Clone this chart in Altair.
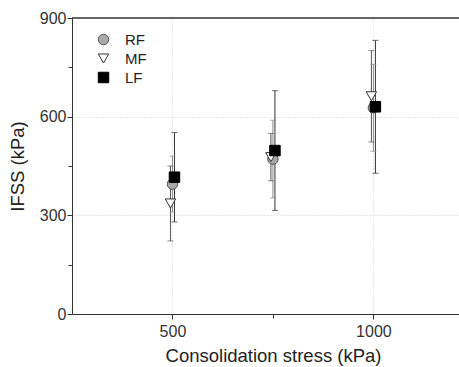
import altair as alt
import pandas as pd

stress = [500, 750, 1000]
series = ["RF", "MF", "LF"]
rf_mean = [395, 471, 627]
rf_err = [85, 118, 132]
mf_mean = [336, 477, 662]
mf_err = [114, 72, 139]
lf_mean = [416, 497, 630]
lf_err = [136, 182, 202]

dodge = {"RF": 0, "MF": -5, "LF": 5}
rows = []
for name, means, errs in [("RF", rf_mean, rf_err), ("MF", mf_mean, mf_err), ("LF", lf_mean, lf_err)]:
    for s, m, e in zip(stress, means, errs):
        rows.append({"stress": s + dodge[name], "series": name, "ifss": m,
                     "lo": m - e, "hi": m + e})
df = pd.DataFrame(rows)

FONT = "Liberation Sans"
XMIN, XMAX = 250, 1213

xscale = alt.Scale(domain=[XMIN, XMAX], nice=False, zero=False)
yscale = alt.Scale(domain=[0, 900], nice=False)

xaxis = alt.Axis(
    values=[500, 750, 1000],
    labelExpr="datum.value % 500 == 0 ? datum.label : ''",
    format="d",
    title="Consolidation stress (kPa)",
    titleX=201,
    grid=True,
    gridColor="#d0d0d0",
    gridDash=[1, 2],
    gridOpacity={"condition": {"test": "datum.value % 500 == 0", "value": 1}, "value": 0},
    tickSize={"condition": {"test": "datum.value % 500 == 0", "value": 5}, "value": 4},
    domainColor="#333", tickColor="#333", labelColor="#333", titleColor="#222",
    labelFont=FONT, titleFont=FONT, labelFontSize=16, titleFontSize=18.5,
    titleFontWeight="normal", labelPadding=4, titlePadding=7,
)
yaxis = alt.Axis(
    values=[0, 150, 300, 450, 600, 750, 900],
    labelExpr="datum.value % 300 == 0 ? datum.label : ''",
    title="IFSS (kPa)",
    grid=True,
    gridColor="#d0d0d0",
    gridDash=[1, 2],
    gridOpacity={"condition": {"test": "datum.value % 300 == 0 && datum.value > 0 && datum.value < 900", "value": 1}, "value": 0},
    tickSize={"condition": {"test": "datum.value % 300 == 0", "value": 5}, "value": 4},
    domainColor="#333", tickColor="#333", labelColor="#333", titleColor="#222",
    labelFont=FONT, titleFont=FONT, labelFontSize=16, titleFontSize=18.5,
    titleFontWeight="normal", labelPadding=1, titlePadding=12,
)

base = alt.Chart(df)

bar_color = alt.Color("series:N", scale=alt.Scale(domain=series, range=["#8c8c8c", "#555555", "#333333"]), legend=None)

bars = base.mark_rule(strokeWidth=1).encode(
    x=alt.X("stress:Q", scale=xscale, axis=xaxis),
    y=alt.Y("lo:Q", scale=yscale, axis=yaxis),
    y2="hi:Q",
    color=bar_color,
)
cap_hi = base.mark_tick(orient="horizontal", size=6, thickness=1).encode(
    x=alt.X("stress:Q", scale=xscale), y=alt.Y("hi:Q", scale=yscale), color=bar_color)
cap_lo = base.mark_tick(orient="horizontal", size=6, thickness=1).encode(
    x=alt.X("stress:Q", scale=xscale), y=alt.Y("lo:Q", scale=yscale), color=bar_color)

leg = alt.Legend(title=None, orient="none", legendX=24, legendY=14, padding=0,
                 labelFont=FONT, labelFontSize=15, labelColor="#222",
                 symbolSize=110, symbolStrokeWidth=1, rowPadding=3,
                 labelOffset=14)

points = base.mark_point(size=110, opacity=1, strokeWidth=1, filled=False).encode(
    x=alt.X("stress:Q", scale=xscale),
    y=alt.Y("ifss:Q", scale=yscale),
    shape=alt.Shape("series:N", scale=alt.Scale(domain=series, range=["circle", "triangle-down", "square"]), legend=leg),
    fill=alt.Fill("series:N", scale=alt.Scale(domain=series, range=["#a8a8a8", "#ffffff", "#000000"]), legend=leg),
    stroke=alt.Stroke("series:N", scale=alt.Scale(domain=series, range=["#555555", "#333333", "#000000"]), legend=leg),
)

top_line = alt.Chart(pd.DataFrame({"v": [900]})).mark_rule(color="#333", strokeWidth=1.5).encode(
    y=alt.Y("v:Q", scale=yscale))

chart = alt.layer(bars, cap_hi, cap_lo, points, top_line).resolve_scale(color="independent").properties(
    width=387, height=296,
    autosize=alt.AutoSizeParams(type="none"),
    padding={"left": 72, "top": 18, "right": 0, "bottom": 53},
    background="white",
).configure_view(stroke=None)

chart.save("out.html", embed_options={"renderer": "svg", "actions": False})
